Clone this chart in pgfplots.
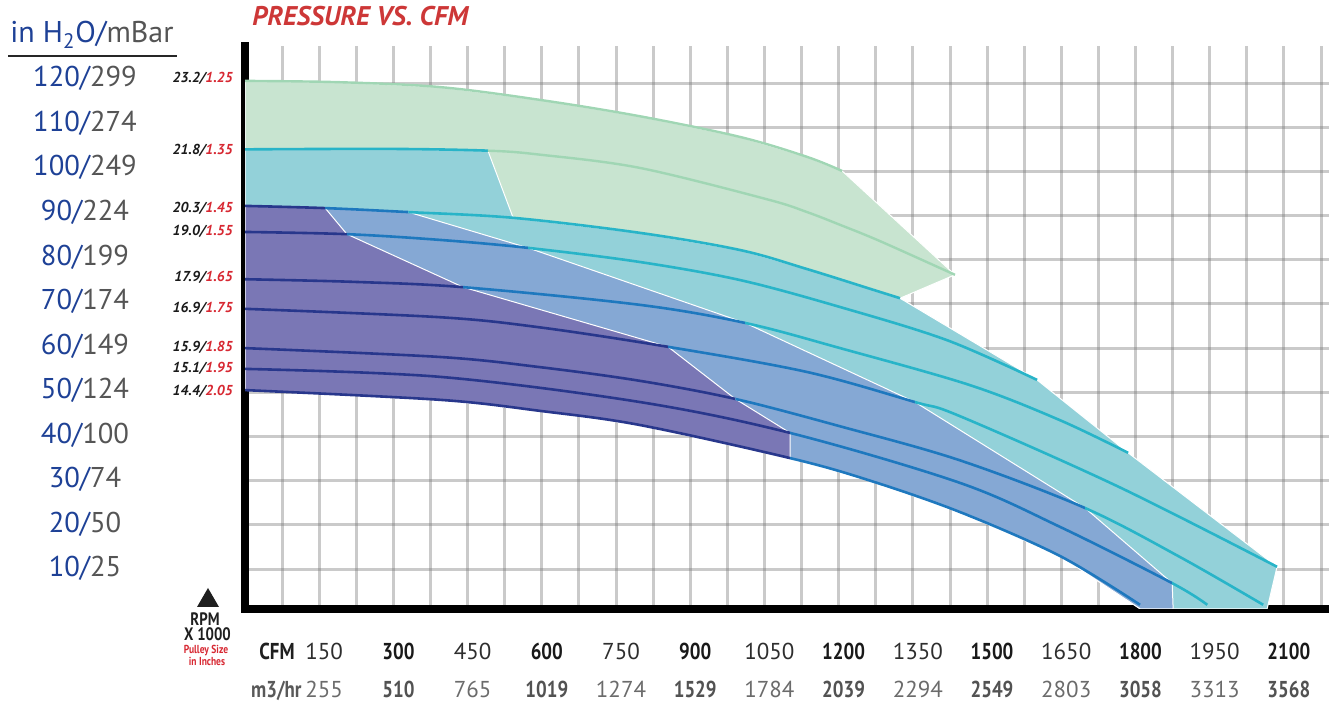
\documentclass[border=0pt]{standalone}
\usepackage{pgfplots}
\usepackage{pgfplotstable}
\pgfplotsset{compat=1.18}
\usepackage{fontspec}
\setmainfont{PT Sans}
\newfontfamily\condfont[FakeStretch=0.82]{PT Sans}

\definecolor{greenfill}{RGB}{200,228,208}
\definecolor{greenline}{RGB}{160,214,180}
\definecolor{cyanfill}{RGB}{147,209,217}
\definecolor{cyanline}{RGB}{40,180,200}
\definecolor{bluefill}{RGB}{133,168,212}
\definecolor{blueline}{RGB}{30,120,190}
\definecolor{purplefill}{RGB}{122,119,181}
\definecolor{navyline}{RGB}{40,55,140}
\definecolor{lblue}{RGB}{30,65,150}
\definecolor{lgray}{RGB}{85,85,85}
\definecolor{pred}{RGB}{215,40,50}
\definecolor{titlered}{RGB}{205,55,55}

% fan curves, CFM vs in H2O, one per RPM
\pgfplotstableread{
x y
0 120.5
192 120.2
394 119.1
596 116.2
798 112.5
1001 107.8
1136 103.3
1207 100.1
}\rpmA
\pgfplotstableread{
x y
0 105.0
293 105.1
491 104.7
596 103.8
798 100.8
1055 93.7
1136 90.8
1203 87.9
1284 84.2
1435 76.6
}\rpmB
\pgfplotstableread{
x y
0 92.2
162 91.7
330 90.8
542 89.5
798 86.1
1001 82.2
1136 77.9
1270 73.2
1324 71.3
}\rpmC
\pgfplotstableread{
x y
0 86.3
206 85.8
394 84.5
572 82.7
798 79.5
1001 75.4
1203 69.3
1419 61.8
1601 52.8
}\rpmD
\pgfplotstableread{
x y
0 75.6
220 75.0
441 73.8
798 69.8
1011 65.7
1203 60.0
1466 51.6
1647 43.7
1785 36.3
}\rpmE
\pgfplotstableread{
x y
0 68.9
394 67.0
596 64.7
855 60.3
1136 54.6
1354 47.8
1445 44.6
1766 28.6
2086 10.5
}\rpmF
\pgfplotstableread{
x y
0 60.0
394 58.0
596 55.7
798 52.6
991 48.5
1203 42.3
1445 34.6
1698 23.8
1890 12.7
2058 1.9
}\rpmG
\pgfplotstableread{
x y
0 55.3
394 53.5
798 47.8
1102 40.8
1445 29.5
1648 19.5
1874 6.8
1945 1.9
}\rpmH
\pgfplotstableread{
x y
0 50.5
394 48.3
596 45.8
798 42.6
1102 35.1
1258 30.2
1445 22.9
1648 12.9
1809 1.9
}\rpmI

\tikzset{
  region/.style={draw=white, line width=0.5pt, on layer=axis background},
  curve/.style={smooth, tension=0.55, line width=1.3pt, mark=none},
}
% one colour stretch of a curve, between two CFM values
\newcommand{\seg}[4]{%
  \begin{scope}
    \clip (axis cs:#3,0) rectangle (axis cs:#4,130);
    \addplot[curve, #2] table {#1};
  \end{scope}}

\begin{document}
\begin{tikzpicture}
\begin{axis}[
    set layers,
    at={(122.5pt,47.5pt)}, anchor=south west,
    scale only axis, width=542pt, height=281.5pt,
    xmin=0, xmax=2191, ymin=0.95, ymax=128.4,
    xtick={75,150,...,2175}, ytick={10,20,...,120},
    xticklabels={}, yticklabels={},
    tick style={draw=none},
    grid=major,
    major grid style={color=black!55, opacity=0.38, line width=1.5pt},
    axis x line*=bottom, axis y line*=left,
    axis line style={-, line width=4pt, line cap=rect, black},
    clip mode=individual,
  ]

% operating regions
\addplot[region, fill=greenfill] coordinates {
  (0,120.5) (192,120.2) (394,119.1) (596,116.2) (798,112.5) (1001,107.8)
  (1136,103.3) (1207,100.1) (1435,76.6) (1324,71.3) (1270,73.2) (1136,77.9)
  (1001,82.2) (798,86.1) (542,89.5) (330,90.8) (162,91.7) (0,92.2)} -- cycle;
\addplot[region, fill=cyanfill] coordinates {
  (0,105.0) (293,105.1) (491,104.7) (542,89.5) (798,86.1) (1001,82.2)
  (1136,77.9) (1270,73.2) (1324,71.3) (1601,52.8) (1785,36.3) (2086,10.5)
  (2066,1.0) (1809,1.0) (1648,12.9) (1445,22.9) (1258,30.2) (1102,35.1)
  (798,42.6) (596,45.8) (394,48.3) (0,50.5)} -- cycle;
\addplot[region, fill=bluefill] coordinates {
  (0,92.2) (162,91.7) (330,90.8) (572,82.7) (1011,65.7) (1354,47.8)
  (1698,23.8) (1874,6.8) (1876,1.0) (1809,1.0) (1648,12.9) (1445,22.9)
  (1258,30.2) (1102,35.1) (798,42.6) (596,45.8) (394,48.3) (0,50.5)} -- cycle;
\addplot[region, fill=purplefill] coordinates {
  (0,92.2) (162,91.7) (206,85.8) (441,73.8) (855,60.3) (991,48.5)
  (1102,40.8) (1102,35.1) (798,42.6) (596,45.8) (394,48.3) (0,50.5)} -- cycle;

% 23.2 / 1.25
\addplot[curve, greenline, line width=1.2pt] table {\rpmA};
% 21.8 / 1.35
\seg{\rpmB}{cyanline}{0}{491}
\seg{\rpmB}{greenline, line width=1.2pt}{491}{1500}
% 20.3 / 1.45
\seg{\rpmC}{navyline}{0}{162}
\seg{\rpmC}{blueline}{162}{330}
\seg{\rpmC}{cyanline}{330}{1400}
% 19.0 / 1.55
\seg{\rpmD}{navyline}{0}{206}
\seg{\rpmD}{blueline}{206}{572}
\seg{\rpmD}{cyanline}{572}{1700}
% 17.9 / 1.65
\seg{\rpmE}{navyline}{0}{441}
\seg{\rpmE}{blueline}{441}{1011}
\seg{\rpmE}{cyanline}{1011}{1900}
% 16.9 / 1.75
\seg{\rpmF}{navyline}{0}{855}
\seg{\rpmF}{blueline}{855}{1354}
\seg{\rpmF}{cyanline}{1354}{2190}
% 15.9 / 1.85
\seg{\rpmG}{navyline}{0}{991}
\seg{\rpmG}{blueline}{991}{1698}
\seg{\rpmG}{cyanline}{1698}{2190}
% 15.1 / 1.95
\seg{\rpmH}{navyline}{0}{1102}
\seg{\rpmH}{blueline}{1102}{1874}
\seg{\rpmH}{cyanline}{1874}{2190}
% 14.4 / 2.05
\seg{\rpmI}{navyline}{0}{1102}
\seg{\rpmI}{blueline}{1102}{2190}
\end{axis}

% title
\node[anchor=base west, inner sep=0, text=titlered, font=\bfseries\itshape\fontsize{13.5}{14}\selectfont]
  at (126pt,339pt) {PRESSURE VS. CFM};

% left pressure scale
\node[anchor=base west, inner sep=0, font=\fontsize{15}{15}\selectfont]
  at (5pt,330.5pt) {\textcolor{lblue}{in H\textsubscript{2}O/}\textcolor{lgray}{mBar}};
\draw[line width=1pt, black!85] (4pt,324pt) -- (88.5pt,324pt);
\foreach \p/\m/\yy in {120/299/308.5, 110/274/286.25, 100/249/264, 90/224/241.65,
    80/199/219.4, 70/174/197.1, 60/149/174.85, 50/124/152.6, 40/100/130.3,
    30/74/108.05, 20/50/85.75, 10/25/63.5} {
  \node[anchor=base, inner sep=0, font=\fontsize{14.3}{15}\selectfont]
    at (42.5pt,\yy pt) {\textcolor{lblue}{\p/}\textcolor{lgray}{\m}};
}

% rpm / pulley labels
\foreach \r/\s/\yy in {23.2/1.25/310.5, 21.8/1.35/274.5, 20.3/1.45/245.5, 19.0/1.55/234,
    17.9/1.65/211, 16.9/1.75/195.5, 15.9/1.85/176, 15.1/1.95/165.5, 14.4/2.05/154} {
  \node[anchor=base east, inner sep=0, font=\bfseries\itshape\fontsize{7.2}{8}\selectfont]
    at (116.5pt,\yy pt) {\textcolor{black!90}{\r/}\textcolor{pred}{\s}};
}

% RPM block
\fill[black!88] (104pt,58pt) -- (98.5pt,48.5pt) -- (109.5pt,48.5pt) -- cycle;
\node[anchor=base, inner sep=0, text=black!88, font=\condfont\bfseries\fontsize{9}{9}\selectfont]
  at (102.5pt,39pt) {RPM};
\node[anchor=base, inner sep=0, text=black!88, font=\condfont\bfseries\fontsize{9}{9}\selectfont]
  at (103.75pt,31.5pt) {X 1000};
\node[anchor=base, inner sep=0, text=pred, font=\condfont\bfseries\fontsize{5.8}{6}\selectfont]
  at (103pt,25.3pt) {Pulley Size};
\node[anchor=base, inner sep=0, text=pred, font=\condfont\bfseries\fontsize{5.8}{6}\selectfont]
  at (103.5pt,19.3pt) {in Inches};

% flow scale
\node[anchor=base east, inner sep=0, text=black!88, font=\condfont\bfseries\fontsize{11.5}{12}\selectfont]
  at (147.5pt,22pt) {CFM};
\node[anchor=base east, inner sep=0, text=black!65, font=\condfont\bfseries\fontsize{11.5}{12}\selectfont]
  at (151pt,3pt) {m3/hr};
\foreach \v/\m/\b in {150/255/0, 300/510/1, 450/765/0, 600/1019/1, 750/1274/0,
    900/1529/1, 1050/1784/0, 1200/2039/1, 1350/2294/0, 1500/2549/1, 1650/2803/0,
    1800/3058/1, 1950/3313/0, 2100/3568/1} {
  \ifnum\b=1
    \node[anchor=base, inner sep=0, text=black!90, font=\condfont\bfseries\fontsize{11.5}{12}\selectfont]
      at ({125pt+0.24735pt*\v},22pt) {\v};
    \node[anchor=base, inner sep=0, text=black!68, font=\condfont\bfseries\fontsize{11.5}{12}\selectfont]
      at ({125pt+0.24735pt*\v},3pt) {\m};
  \else
    \node[anchor=base, inner sep=0, text=black!82, font=\fontsize{11.5}{12}\selectfont]
      at ({125pt+0.24735pt*\v},22pt) {\v};
    \node[anchor=base, inner sep=0, text=black!58, font=\fontsize{11.5}{12}\selectfont]
      at ({125pt+0.24735pt*\v},3pt) {\m};
  \fi
}

\pgfresetboundingbox
\path[use as bounding box] (0,0) rectangle (664.5pt,352pt);
\end{tikzpicture}
\end{document}
